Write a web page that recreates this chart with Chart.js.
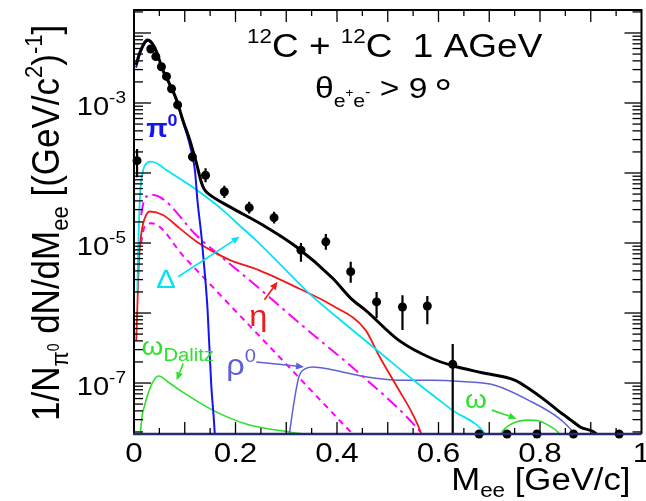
<!DOCTYPE html>
<html><head><meta charset="utf-8">
<script src="https://cdn.jsdelivr.net/npm/chart.js@4/dist/chart.umd.min.js"></script>
<style>html,body{margin:0;padding:0;background:#fff;}canvas{display:block;}</style>
</head><body>
<canvas id="c" width="646" height="501"></canvas>
<script>
// ---------- axis ranges & ticks ----------
const X_MIN = 0, X_MAX = 1.0;
const Y_MIN = 1.87e-8, Y_MAX = 0.0213;
const xTickValues = [0, 0.2, 0.4, 0.6, 0.8, 1.0];
const xTickLabels = ['0', '0.2', '0.4', '0.6', '0.8', '1'];
const yTickExponents = [-3, -5, -7];

// ---------- measured data (dots with error bars) ----------
const dataMass  = [0.006, 0.033, 0.043, 0.054, 0.064, 0.074, 0.086, 0.115, 0.141, 0.178, 0.227, 0.276, 0.329, 0.378, 0.427, 0.478, 0.529, 0.578, 0.628, 0.680, 0.735, 0.794, 0.866, 0.956];
const dataYield = [1.5e-4, 5.9e-3, 4.6e-3, 3.3e-3, 2.4e-3, 1.6e-3, 9.4e-4, 1.7e-4, 9.3e-5, 5.4e-5, 3.2e-5, 2.3e-5, 7.9e-6, 1.04e-5, 3.9e-6, 1.44e-6, 1.22e-6, 1.26e-6, 1.85e-7, Y_MIN, Y_MIN, Y_MIN, Y_MIN, Y_MIN];
const dataErrLow  = [8.7e-5, 5.7e-3, 4.4e-3, 3.15e-3, 2.3e-3, 1.5e-3, 8.8e-4, 1.45e-4, 7.4e-5, 4.4e-5, 2.65e-5, 1.9e-5, 5.4e-6, 8.0e-6, 2.7e-6, 8.5e-7, 5.7e-7, 6.9e-7, 1e-9, Y_MIN, Y_MIN, Y_MIN, Y_MIN, Y_MIN];
const dataErrHigh = [2.2e-4, 6.1e-3, 4.8e-3, 3.45e-3, 2.5e-3, 1.7e-3, 1.0e-3, 2.0e-4, 1.17e-4, 6.6e-5, 3.9e-5, 2.8e-5, 1.0e-5, 1.35e-5, 5.4e-6, 2.0e-6, 1.8e-6, 1.75e-6, 3.6e-7, Y_MIN, Y_MIN, Y_MIN, Y_MIN, Y_MIN];

// ---------- model curves ----------
const totalMass  = [0.004, 0.012, 0.027, 0.041, 0.057, 0.071, 0.084, 0.096, 0.110, 0.123, 0.133, 0.139, 0.149, 0.188, 0.253, 0.319, 0.391, 0.430, 0.456, 0.522, 0.587, 0.627, 0.684, 0.750, 0.782, 0.809, 0.835, 0.861, 0.880, 0.914, 0.930];
const totalYield = [3.5e-3, 5.37e-3, 7.94e-3, 6.17e-3, 2.95e-3, 1.82e-3, 1.10e-3, 5.75e-4, 2.95e-4, 1.38e-4, 7.24e-5, 5.75e-5, 4.9e-5, 3.31e-5, 1.82e-5, 8.91e-6, 3.16e-6, 1.55e-6, 1.10e-6, 4.07e-7, 2.24e-7, 1.78e-7, 1.41e-7, 1.10e-7, 7.94e-8, 5.75e-8, 4.07e-8, 2.95e-8, 2.34e-8, 1.78e-8, 1.0e-8];

const pi0Mass  = [0.004, 0.012, 0.027, 0.041, 0.057, 0.071, 0.084, 0.096, 0.110, 0.120, 0.125, 0.133, 0.139, 0.145, 0.152, 0.159, 0.162];
const pi0Yield = [3.2e-3, 5.13e-3, 7.76e-3, 6.03e-3, 2.88e-3, 1.78e-3, 1.07e-3, 5.5e-4, 2.51e-4, 1.10e-4, 4.07e-5, 1.23e-5, 4.07e-6, 1.10e-6, 1.0e-7, 1.95e-8, 6.3e-9];

const deltaMass  = [0.0065, 0.009, 0.012, 0.018, 0.024, 0.031, 0.045, 0.064, 0.090, 0.123, 0.175, 0.208, 0.240, 0.290, 0.345, 0.400, 0.482, 0.554, 0.626, 0.695, 0.710];
const deltaYield = [2.0e-6, 1.2e-5, 5.0e-5, 1.1e-4, 1.35e-4, 1.45e-4, 1.38e-4, 1.10e-4, 8.32e-5, 5.75e-5, 2.95e-5, 1.78e-5, 1.10e-5, 4.79e-6, 1.91e-6, 8.7e-7, 2.82e-7, 1.05e-7, 4.17e-8, 1.74e-8, 1.0e-8];

const etaMass  = [0.0045, 0.007, 0.010, 0.014, 0.018, 0.025, 0.031, 0.057, 0.090, 0.123, 0.155, 0.188, 0.247, 0.325, 0.390, 0.456, 0.482, 0.522, 0.548, 0.567, 0.575];
const etaYield = [4.0e-7, 1.5e-6, 6.0e-6, 1.3e-5, 1.9e-5, 2.6e-5, 2.82e-5, 2.51e-5, 1.62e-5, 1.05e-5, 7.59e-6, 5.75e-6, 4.07e-6, 2.24e-6, 1.29e-6, 5.75e-7, 2.51e-7, 7.94e-8, 3.72e-8, 1.78e-8, 1.0e-8];

const etaDalitzDDMass  = [0.014, 0.020, 0.035, 0.129, 0.247, 0.335, 0.450, 0.561, 0.580];
const etaDalitzDDYield = [2.5e-5, 4.1e-5, 4.9e-5, 1.17e-5, 2.24e-6, 6.3e-7, 1.26e-7, 2.14e-8, 1.4e-8];

const bremMass  = [0.014, 0.020, 0.035, 0.100, 0.200, 0.300, 0.435, 0.450];
const bremYield = [1.0e-5, 1.66e-5, 1.91e-5, 6.17e-6, 1.07e-6, 1.86e-7, 1.74e-8, 1.35e-8];

const rhoMass  = [0.300, 0.306, 0.316, 0.325, 0.339, 0.352, 0.390, 0.456, 0.522, 0.588, 0.645, 0.711, 0.776, 0.842, 0.869, 0.880];
const rhoYield = [1.0e-8, 1.86e-8, 5.75e-8, 1.23e-7, 1.62e-7, 1.70e-7, 1.55e-7, 1.23e-7, 1.10e-7, 1.10e-7, 1.05e-7, 9.3e-8, 5.75e-8, 2.95e-8, 1.8e-8, 1.2e-8];

const omegaDalitzMass  = [0.011, 0.014, 0.022, 0.030, 0.040, 0.048, 0.070, 0.090, 0.155, 0.221, 0.306, 0.360, 0.400];
const omegaDalitzYield = [1.0e-8, 2.5e-8, 5.1e-8, 7.9e-8, 1.12e-7, 1.26e-7, 1.0e-7, 7.9e-8, 4.1e-8, 2.6e-8, 2.0e-8, 1.78e-8, 1.6e-8];

const omegaMass  = [0.712, 0.725, 0.744, 0.776, 0.800, 0.816, 0.835, 0.852];
const omegaYield = [1.2e-8, 2.0e-8, 2.6e-8, 2.95e-8, 2.85e-8, 2.5e-8, 2.0e-8, 1.3e-8];

// ---------- styling ----------
const FONT = '"Liberation Sans", Arial, Helvetica, sans-serif';
const S = 1.12; // horizontal text stretch of the original figure
const C_BLUE = '#1414ee', C_CYAN = '#00e4f4', C_RED = '#f01818', C_MAG = '#ff00ff',
      C_RHO = '#6060d4', C_GREEN = '#2ee02e';

function pts(xs, ys) { return xs.map((x, i) => ({ x: x, y: ys[i] })); }
function curve(label, xs, ys, color, width, dash) {
  return { label: label, data: pts(xs, ys), showLine: true, borderColor: color, backgroundColor: color,
           borderWidth: width, pointRadius: 0, cubicInterpolationMode: 'monotone', borderDash: dash || [], fill: false };
}

function fnt(size, bold) { return (bold ? 'bold ' : '') + size + 'px ' + FONT; }
function drawRich(ctx, x, y, segs, color, align, rotate) {
  ctx.save();
  ctx.translate(x, y);
  ctx.scale(S, 1);
  if (rotate) ctx.rotate(-Math.PI / 2);
  let w = 0;
  segs.forEach(s => { ctx.font = fnt(s.size, s.bold); w += ctx.measureText(s.t).width; });
  let cx = align === 'right' ? -w : (align === 'center' ? -w / 2 : 0);
  ctx.textAlign = 'left'; ctx.textBaseline = 'alphabetic';
  segs.forEach(s => {
    ctx.font = fnt(s.size, s.bold); ctx.fillStyle = s.color || color;
    ctx.fillText(s.t, cx, s.dy || 0);
    cx += ctx.measureText(s.t).width;
  });
  ctx.restore();
}
function arrow(ctx, x1, y1, x2, y2, color) {
  ctx.save();
  ctx.strokeStyle = color; ctx.fillStyle = color; ctx.lineWidth = 1.6;
  const a = Math.atan2(y2 - y1, x2 - x1), L = 8, W = 3.5;
  const bx = x2 - L * Math.cos(a), by = y2 - L * Math.sin(a);
  ctx.beginPath(); ctx.moveTo(x1, y1); ctx.lineTo(bx, by); ctx.stroke();
  ctx.beginPath(); ctx.moveTo(x2, y2);
  ctx.lineTo(bx + W * Math.sin(a), by - W * Math.cos(a));
  ctx.lineTo(bx - W * Math.sin(a), by + W * Math.cos(a));
  ctx.closePath(); ctx.fill();
  ctx.restore();
}

// annotation anchors (data coordinates)
const annotations = [
  { segs: [{ t: 'π', size: 25, bold: true }, { t: '0', size: 16, bold: true, dy: -11 }], color: C_BLUE, x: 0.024, y: 3.3e-4 },
  { segs: [{ t: 'Δ', size: 26 }], color: C_CYAN, x: 0.044, y: 2.28e-6, arrow: [0.087, 3.3e-6, 0.208, 1.23e-5] },
  { segs: [{ t: 'η', size: 29 }], color: C_RED, x: 0.227, y: 6.5e-7, arrow: [0.257, 1.55e-6, 0.283, 2.8e-6] },
  { segs: [{ t: 'ρ', size: 29 }, { t: '0', size: 18, dy: -13 }], color: C_RHO, x: 0.182, y: 1.3e-7, arrow: [0.241, 2.0e-7, 0.335, 1.7e-7] },
  { segs: [{ t: 'ω', size: 25 }, { t: 'Dalitz', size: 18, dy: 6 }], color: C_GREEN, x: 0.015, y: 2.5e-7, arrow: [0.097, 1.9e-7, 0.084, 1.1e-7] },
  { segs: [{ t: 'ω', size: 25 }], color: C_GREEN, x: 0.652, y: 4.4e-8, arrow: [0.705, 4.1e-8, 0.754, 3.1e-8] }
];

const decor = {
  id: 'decor',
  afterDatasetsDraw(chart) {
    const ctx = chart.ctx, a = chart.chartArea, xs = chart.scales.x, ys = chart.scales.y;
    const px = v => xs.getPixelForValue(v), py = v => ys.getPixelForValue(v);

    // error bars
    ctx.save();
    ctx.beginPath(); ctx.rect(a.left, a.top - 1, a.right - a.left, a.bottom - a.top + 1); ctx.clip();
    ctx.strokeStyle = '#000'; ctx.lineWidth = 2.2;
    dataMass.forEach((m, i) => {
      if (dataErrHigh[i] <= dataErrLow[i]) return;
      ctx.beginPath(); ctx.moveTo(px(m), py(dataErrLow[i])); ctx.lineTo(px(m), py(dataErrHigh[i])); ctx.stroke();
    });
    ctx.restore();

    // frame
    ctx.save();
    ctx.strokeStyle = '#000'; ctx.lineWidth = 2;
    ctx.beginPath();
    ctx.moveTo(a.left, a.bottom); ctx.lineTo(a.left, a.top); ctx.lineTo(a.right, a.top); ctx.lineTo(a.right, a.bottom);
    ctx.stroke();
    ctx.strokeStyle = '#2a2a70'; ctx.lineWidth = 2.5;
    ctx.beginPath(); ctx.moveTo(a.left - 1, a.bottom); ctx.lineTo(a.right, a.bottom); ctx.stroke();

    // x ticks (every 0.05, longer every 0.1)
    ctx.strokeStyle = '#000'; ctx.lineWidth = 1.3;
    for (let k = 1; k < 20; k++) {
      const v = k * 0.05, x = px(v), L = (k % 2 === 0) ? 12 : 6;
      ctx.beginPath(); ctx.moveTo(x, a.bottom); ctx.lineTo(x, a.bottom - L); ctx.stroke();
      ctx.beginPath(); ctx.moveTo(x, a.top); ctx.lineTo(x, a.top + L); ctx.stroke();
    }
    // y ticks (log)
    for (let e = -9; e <= -1; e++) {
      for (let m = 1; m <= 9; m++) {
        const v = m * Math.pow(10, e);
        if (v < Y_MIN || v > Y_MAX) continue;
        const y = py(v), L = (m === 1) ? 17 : 9;
        ctx.beginPath(); ctx.moveTo(a.left, y); ctx.lineTo(a.left + L, y); ctx.stroke();
        ctx.beginPath(); ctx.moveTo(a.right, y); ctx.lineTo(a.right - L, y); ctx.stroke();
      }
    }
    ctx.restore();

    // tick labels
    xTickValues.forEach((v, i) => {
      drawRich(ctx, px(v), a.bottom + 28, [{ t: xTickLabels[i], size: 28 }], '#000', 'center');
    });
    yTickExponents.forEach(e => {
      drawRich(ctx, a.left - 8, py(Math.pow(10, e)) + 12,
        [{ t: '10', size: 26 }, { t: '-' + Math.abs(e), size: 17, dy: -12 }], '#000', 'right');
    });

    // axis titles
    drawRich(ctx, a.right - 11, 490,
      [{ t: 'M', size: 31 }, { t: 'ee', size: 20, dy: 7 }, { t: ' [GeV/c]', size: 31 }], '#000', 'right');
    drawRich(ctx, 59, 421, [
      { t: '1/N', size: 35 }, { t: 'π', size: 22, dy: 8 }, { t: '0', size: 14, dy: 0 },
      { t: ' dN/dM', size: 35 }, { t: 'ee', size: 22, dy: 8 },
      { t: ' [(GeV/c', size: 35 }, { t: '2', size: 22, dy: -15 }, { t: ')', size: 35 },
      { t: '-1', size: 22, dy: -15 }, { t: ']', size: 35 }], '#000', 'left', true);

    // header texts
    drawRich(ctx, 247, 57, [
      { t: '12', size: 20, dy: -14 }, { t: 'C + ', size: 33 },
      { t: '12', size: 20, dy: -14 }, { t: 'C  1 AGeV', size: 33 }], '#000', 'left');
    drawRich(ctx, 315, 98, [
      { t: 'θ', size: 30 }, { t: 'e', size: 19, dy: 9 }, { t: '+', size: 12, dy: -1 },
      { t: 'e', size: 19, dy: 9 }, { t: '-', size: 14, dy: -1 },
      { t: ' > 9', size: 30 }, { t: '\u2009', size: 30 }, { t: '°', size: 40, dy: 9 }], '#000', 'left');

    // curve labels & arrows
    annotations.forEach(an => {
      drawRich(ctx, px(an.x), py(an.y), an.segs, an.color, 'left');
      if (an.arrow) arrow(ctx, px(an.arrow[0]), py(an.arrow[1]), px(an.arrow[2]), py(an.arrow[3]), an.color);
    });
  }
};

new Chart(document.getElementById('c'), {
  type: 'scatter',
  data: {
    datasets: [
      { label: 'data', data: pts(dataMass, dataYield), pointRadius: 4.5, pointBackgroundColor: '#000',
        pointBorderColor: '#000', pointBorderWidth: 0, showLine: false, clip: false },
      curve('total', totalMass, totalYield, '#000', 3),
      curve('π0', pi0Mass, pi0Yield, C_BLUE, 2),
      curve('Δ', deltaMass, deltaYield, C_CYAN, 1.8),
      curve('η', etaMass, etaYield, C_RED, 1.8),
      curve('dash-dot', etaDalitzDDMass, etaDalitzDDYield, C_MAG, 2, [13, 5, 3, 5]),
      curve('dashed', bremMass, bremYield, C_MAG, 2, [6, 5]),
      curve('ρ0', rhoMass, rhoYield, C_RHO, 1.5),
      curve('ω Dalitz', omegaDalitzMass, omegaDalitzYield, C_GREEN, 1.6),
      curve('ω', omegaMass, omegaYield, C_GREEN, 1.6)
    ]
  },
  options: {
    responsive: false, animation: false, devicePixelRatio: 1,
    layout: { padding: { left: 134, right: 2, top: 10, bottom: 67 } },
    plugins: { legend: { display: false }, tooltip: { enabled: false } },
    scales: {
      x: { type: 'linear', min: X_MIN, max: X_MAX, display: false },
      y: { type: 'logarithmic', min: Y_MIN, max: Y_MAX, display: false }
    }
  },
  plugins: [decor]
});
</script>
</body></html>
